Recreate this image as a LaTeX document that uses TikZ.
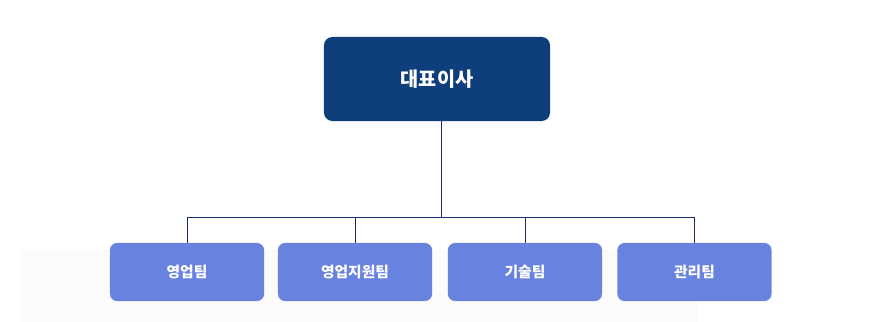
\documentclass[tikz,border=0pt]{standalone}
\usepackage{fontspec}
\newfontfamily\krfont{Noto Sans CJK KR}
\usetikzlibrary{positioning}
\definecolor{navy}{HTML}{0F3E7C}
\definecolor{teamblue}{HTML}{6882E0}
\definecolor{linenavy}{HTML}{1B2A6E}

\begin{document}
\begin{tikzpicture}[
    x=0.025cm, y=-0.025cm,
    every node/.style={font=\krfont\bfseries, text=white},
    head/.style={fill=navy, rounded corners=6pt, minimum width=5.65cm, minimum height=2.1cm, font=\krfont\bfseries\fontsize{14}{16}\selectfont},
    team/.style={fill=teamblue, rounded corners=5pt, minimum width=3.85cm, minimum height=1.45cm, font=\krfont\bfseries\fontsize{10.5}{12}\selectfont},
    link/.style={draw=linenavy, line width=0.6pt},
]
\useasboundingbox (0,0) rectangle (890,322);
% faint backdrop
\fill[black!1] (20,250) rectangle (698,322);
\node[head] (ceo) at (437,79) {대표이사};
\node[team] (sales) at (187,272) {영업팀};
\node[team] (salessup) at (355,272) {영업지원팀};
\node[team] (tech) at (525,272) {기술팀};
\node[team] (admin) at (694.5,272) {관리팀};
\coordinate (bus) at (441,217);
\draw[link] (ceo.south -| bus) -- (bus);
\draw[link] (sales.north) |- (bus);
\draw[link] (salessup.north) |- (bus);
\draw[link] (tech.north) |- (bus);
\draw[link] (admin.north) |- (bus);
\end{tikzpicture}
\end{document}
